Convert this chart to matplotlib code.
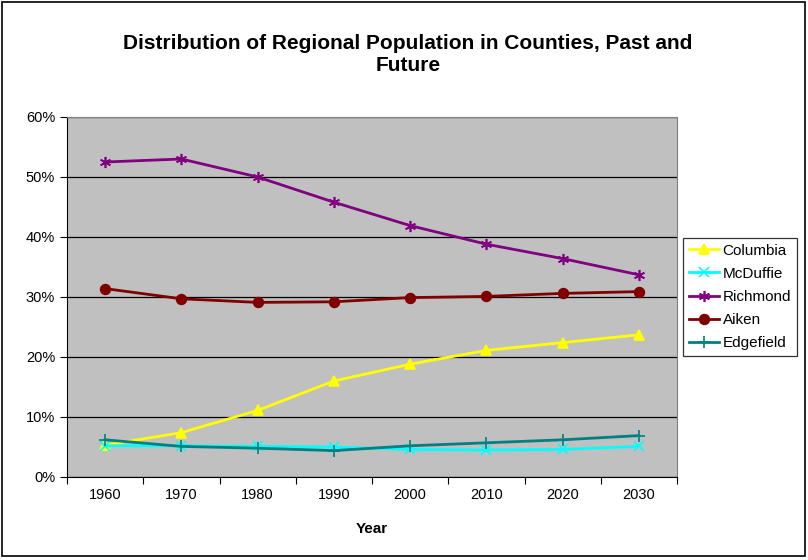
import numpy as np
import matplotlib.pyplot as plt
from matplotlib.patches import Rectangle

plt.rcParams['font.family'] = ['Liberation Sans', 'DejaVu Sans']

years = ['1960', '1970', '1980', '1990', '2000', '2010', '2020', '2030']
columbia = [5.3, 7.4, 11.1, 16.0, 18.8, 21.1, 22.4, 23.7]
mcduffie = [5.2, 5.2, 5.1, 5.0, 4.6, 4.5, 4.6, 5.1]
richmond = [52.5, 53.0, 50.0, 45.8, 41.9, 38.8, 36.4, 33.7]
aiken = [31.4, 29.7, 29.1, 29.2, 29.9, 30.1, 30.6, 30.9]
edgefield = [6.2, 5.1, 4.8, 4.4, 5.2, 5.7, 6.2, 6.9]

series = [
    ('Columbia', columbia, '#FFFF00', '^', 7),
    ('McDuffie', mcduffie, '#00FFFF', 'x', 7),
    ('Richmond', richmond, '#800080', (6, 2, 0), 8),
    ('Aiken', aiken, '#800000', 'o', 7),
    ('Edgefield', edgefield, '#008080', '+', 9),
]

fig = plt.figure(figsize=(8.08, 5.6), dpi=100)
fig.patches.append(Rectangle((0.003, 0.007), 0.993, 0.989, transform=fig.transFigure,
                             fill=False, edgecolor='black', linewidth=1.2))
ax = fig.add_axes([67 / 808, 1 - 477 / 560, 610 / 808, 360 / 560])
ax.set_facecolor('#C0C0C0')

x = np.arange(len(years))
for name, vals, color, marker, ms in series:
    ax.plot(x, vals, color=color, marker=marker, markersize=ms, linewidth=2,
            markeredgewidth=1.2, label=name)

ax.set_xlim(-0.5, len(years) - 0.5)
ax.set_ylim(0, 60)
ax.set_yticks(range(0, 61, 10))
ax.set_yticklabels([f'{v}%' for v in range(0, 61, 10)], fontsize=10.5)
ax.yaxis.grid(True, color='black', linewidth=0.9)
ax.set_axisbelow(True)
ax.set_xticks(np.arange(-0.5, len(years), 1))
ax.set_xticklabels([])
ax.set_xticks(x, minor=True)
ax.set_xticklabels(years, minor=True, fontsize=10.5)
ax.tick_params(axis='x', which='minor', length=0, pad=8)
ax.tick_params(axis='x', which='major', length=5, direction='out')
ax.tick_params(axis='y', length=5, direction='out')
for s in ['top', 'right']:
    ax.spines[s].set_color('#808080')
ax.set_xlabel('Year', fontsize=11, fontweight='bold', labelpad=14)

fig.suptitle('Distribution of Regional Population in Counties, Past and\nFuture',
             fontsize=15, fontweight='bold', y=0.94, x=0.505, linespacing=1.25)

leg = ax.legend(loc='center left', bbox_to_anchor=(0.997, 0.5), fontsize=11,
                frameon=True, fancybox=False, edgecolor='black', handlelength=2.0,
                handletextpad=0.2, borderpad=0.4, labelspacing=0.6)
leg.get_frame().set_linewidth(0.9)

fig.savefig('out.png', dpi=100)
